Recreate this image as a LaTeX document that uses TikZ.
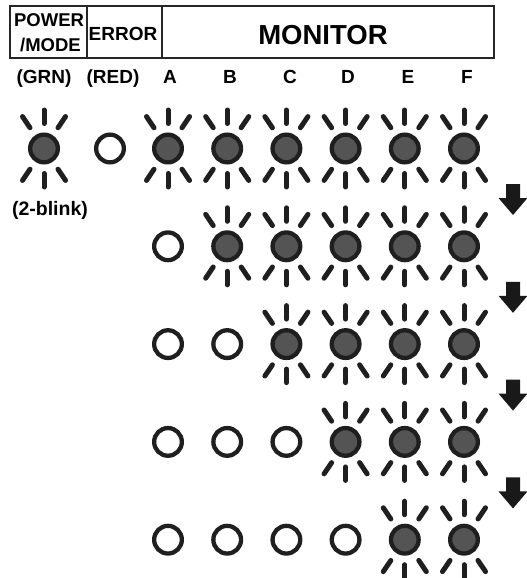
\documentclass[tikz,border=0pt]{standalone}
\usepackage{fontspec}
\setmainfont{Liberation Sans}
\tikzset{
  frame/.style={line width=2.4pt, draw=black!85},
  divider/.style={line width=1.5pt, draw=black!85},
  headtxt/.style={font=\bfseries\fontsize{18.5}{20}\selectfont, inner sep=0pt, anchor=base},
  coltxt/.style={font=\bfseries\fontsize{19}{21}\selectfont, inner sep=0pt, anchor=base},
  ledoff/.style={circle, draw=black!88, line width=4.3pt, minimum size=27.7pt, inner sep=0pt},
  ledon/.style={ledoff, fill=black!67},
  ray/.style={line width=5pt, line cap=round, draw=black!88},
  steparrow/.style={fill=black!90},
}
% blinking LED: name, x, y
\newcommand{\blinkled}[3]{%
  \node[ledon] (#1) at (#2,#3) {};
  \foreach \a in {90,124,56,270,236,304}
    \draw[ray] (#1.center) ++(\a:25) -- ++(\a:13.5);
}
\begin{document}
\begin{tikzpicture}[x=1pt,y=-1pt]
    \useasboundingbox (0,0) rectangle (527,578);

    % Header box
    \draw[frame] (10,6) rectangle (494,58);
    \draw[divider] (87,6) -- (87,58);
    \draw[divider] (162,6) -- (162,58);
    \node[headtxt] (power) at (49,27) {POWER};
    \node[headtxt] (mode) at (50.5,52) {/MODE};
    \node[headtxt, font=\bfseries\fontsize{19}{21}\selectfont] (error) at (123,40.5) {ERROR};
    \node[headtxt, font=\bfseries\fontsize{27.5}{30}\selectfont] (monitor) at (323,45) {MONITOR};

    % Column labels
    \foreach \name/\x/\txt in {grn/44/(GRN), red/113/(RED), A/170/A, B/230/B,
                              C/290/C, D/348/D, E/408/E, F/467/F}
        \node[coltxt] (lbl\name) at (\x,83) {\txt};

    % First row: power LED, error LED off, all monitor LEDs blinking
    \blinkled{pwr}{44}{148.5}
    \node[ledoff] (err) at (110,148.5) {};
    \node[coltxt, font=\bfseries\fontsize{19.5}{21}\selectfont] (blink) at (50,215) {(2-blink)};

    % Monitor LEDs, one more column goes off in each row
    \foreach \row in {0,...,4}{
        \pgfmathsetmacro{\y}{148.5+97.8*\row}
        \foreach \col in {0,...,5}{
            \pgfmathsetmacro{\x}{168+59.2*\col}
            \ifnum\col<\row
                \node[ledoff] (m\row\col) at (\x,\y) {};
            \else
                \blinkled{m\row\col}{\x}{\y}
            \fi
        }
    }

    % Step arrows between rows
    \foreach \i in {0,...,3}{
        \pgfmathsetmacro{\t}{184+97.8*\i}
        \fill[steparrow] (506,\t) -- (520,\t) -- (520,\t+14) -- (527.5,\t+14)
            -- (513,\t+31) -- (498.5,\t+14) -- (506,\t+14) -- cycle;
    }
\end{tikzpicture}
\end{document}
